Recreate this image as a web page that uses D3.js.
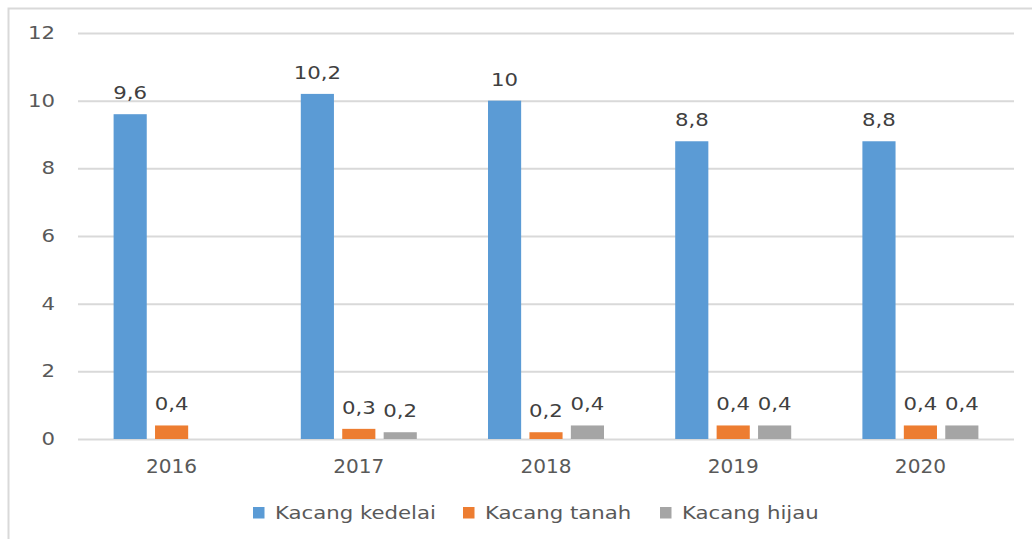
<!DOCTYPE html>
<html><head><meta charset="utf-8">
<script src="https://cdn.jsdelivr.net/npm/d3@7"></script>
<style>
html,body{margin:0;padding:0;background:#fff;}
svg{display:block;}
text{font-family:"DejaVu Sans",sans-serif;fill:#595959;}
</style></head>
<body>
<script>
const categories = ["2016","2017","2018","2019","2020"];
const seriesNames = ["Kacang kedelai","Kacang tanah","Kacang hijau"];
const kedelai = [9.6,10.2,10,8.8,8.8];
const tanah = [0.4,0.3,0.2,0.4,0.4];
const hijau = [null,0.2,0.4,0.4,0.4];
const yTicks = [0,2,4,6,8,10,12];
const colors = ["#5b9bd5","#ed7d31","#a5a5a5"];

(function(){
const W=1032,H=539;
const SX=1.25;
const svg=d3.select("body").append("svg").attr("width",W).attr("height",H);
svg.append("rect").attr("width",W).attr("height",H).attr("fill","#fff");
svg.append("path").attr("d","M8.5,"+H+" V8.5 H"+W).attr("fill","none").attr("stroke","#d9d9d9").attr("stroke-width",2);

const pl=78,pr=1014,pt=33,pb=439;
const y=d3.scaleLinear().domain([0,12]).range([pb,pt]);
const x0=d3.scaleBand().domain(categories).range([pl,pr]).padding(0);
const groupW=116;
const x1=d3.scaleBand().domain(seriesNames).range([0,groupW]).paddingInner(0.2).paddingOuter(0);

const yAxis=d3.axisLeft(y).tickValues(yTicks).tickSize(-(pr-pl)).tickPadding(23).tickFormat(d3.format("d"));
const gy=svg.append("g").attr("transform",`translate(${pl},0)`).call(yAxis);
gy.select(".domain").remove();
gy.selectAll(".tick line").attr("stroke","#d9d9d9").attr("stroke-width",2);
gy.selectAll(".tick text").attr("font-size",17).style("font-family","DejaVu Sans").attr("fill","#595959")
  .each(function(){const t=d3.select(this);t.attr("x",+t.attr("x")/SX).attr("transform",`scale(${SX},1)`);});

const xAxis=d3.axisBottom(x0).tickSize(0).tickPadding(20);
const gx=svg.append("g").attr("transform",`translate(0,${pb})`).call(xAxis);
gx.select(".domain").remove();
gx.selectAll(".tick text").attr("font-size",19.5).style("font-family","DejaVu Sans").attr("fill","#595959")
  .attr("transform","scale(1.03,1)");

const data=categories.map((c,i)=>({cat:c,vals:[kedelai[i],tanah[i],hijau[i]]}));
const fmt=v=>String(v).replace(".",",");

const groups=svg.append("g").selectAll("g").data(data).join("g")
  .attr("transform",d=>`translate(${x0(d.cat)+x0.bandwidth()/2-groupW/2},0)`);
groups.selectAll("rect").data(d=>d.vals.map((v,j)=>({v,s:seriesNames[j],j})).filter(e=>e.v!=null))
  .join("rect")
  .attr("x",e=>x1(e.s)).attr("width",x1.bandwidth())
  .attr("y",e=>y(e.v)).attr("height",e=>y(0)-y(e.v))
  .attr("fill",e=>colors[e.j]);
groups.selectAll("text.lbl").data(d=>d.vals.map((v,j)=>({v,s:seriesNames[j],j})).filter(e=>e.v!=null))
  .join("text").attr("class","lbl")
  .attr("transform",`scale(${SX},1)`)
  .attr("x",e=>(x1(e.s)+x1.bandwidth()/2)/SX).attr("y",e=>y(e.v)-15)
  .attr("text-anchor","middle").attr("font-size",17).style("fill","#404040")
  .text(e=>fmt(e.v));

const legSq=[253,463,660];
const legTx=[275,485,682];
const lg=svg.append("g");
seriesNames.forEach((s,i)=>{
  lg.append("rect").attr("x",legSq[i]).attr("y",507).attr("width",11.5).attr("height",11.5).attr("fill",colors[i]);
  lg.append("text").attr("transform",`scale(${SX},1)`).attr("x",legTx[i]/SX).attr("y",519).attr("font-size",17).text(s);
});
})();
</script>
</body></html>
